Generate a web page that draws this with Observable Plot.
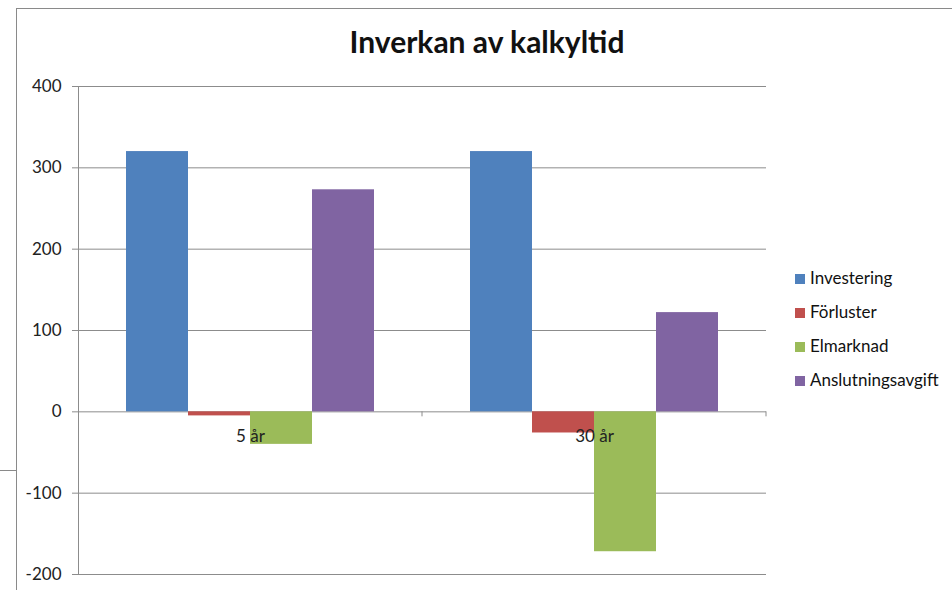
<!DOCTYPE html>
<html>
<head>
<meta charset="utf-8">
<script src="https://cdn.jsdelivr.net/npm/d3@7"></script>
<script src="https://cdn.jsdelivr.net/npm/@observablehq/plot@0.6"></script>
<style>
  html, body { margin: 0; padding: 0; background: #fff; }
  #wrap { position: relative; width: 952px; height: 590px; overflow: hidden; font-family: Lato, "Open Sans", sans-serif; }
  #frameTop { position: absolute; left: 16px; top: 8px; width: 940px; height: 0; border-top: 1px solid #8a8a8a; }
  #frameLeft { position: absolute; left: 16px; top: 8px; width: 0; height: 590px; border-left: 1px solid #8a8a8a; }
  #frameStub { position: absolute; left: 0; top: 470px; width: 16px; height: 0; border-top: 1px solid #8a8a8a; }
  #title { position: absolute; left: 0; width: 952px; top: 23px; text-align: center; font-weight: bold; font-size: 30px; color: #111; padding-left: 22px; box-sizing: border-box; }
  #chart { position: absolute; left: 0; top: 0; }
  #legend { position: absolute; left: 795px; top: 267px; font-size: 17px; color: #111; }
  #legend .row { height: 34px; display: flex; align-items: flex-start; }
  #legend .sw { width: 10px; height: 10px; margin-top: 7px; margin-right: 5px; }
</style>
</head>
<body>
<div id="wrap">
  <div id="frameTop"></div>
  <div id="frameLeft"></div>
  <div id="frameStub"></div>
  <div id="chart"></div>
  <div id="title"></div>
  <div id="legend"></div>
</div>
<script>
const titleText = "Inverkan av kalkyltid";
const categories = ["5 år", "30 år"];
const series = ["Investering", "Förluster", "Elmarknad", "Anslutningsavgift"];
const colors = ["#4F81BD", "#C0504D", "#9BBB59", "#8064A2"];
const values5 = [320, -5, -40, 273];
const values30 = [320, -26, -172, 122];
const yTicks = [-200, -100, 0, 100, 200, 300, 400];

const data = [];
series.forEach((s, i) => {
  data.push({category: categories[0], series: s, value: values5[i]});
  data.push({category: categories[1], series: s, value: values30[i]});
});

document.getElementById("title").textContent = titleText;

const grid = "#8c8c8c";

const catTicks = (index, scales, values, dims) => {
  const g = d3.create("svg:g");
  const y0 = scales.y(0);
  const xr = dims.width - dims.marginRight;
  g.append("line").attr("x1", xr).attr("x2", xr).attr("y1", y0).attr("y2", y0 + 5)
    .attr("stroke", grid);
  return g.node();
};

const chart = Plot.plot({
  width: 952,
  height: 590,
  marginLeft: 78,
  marginRight: 186,
  marginTop: 86,
  marginBottom: 16,
  style: {fontFamily: "Lato, 'Open Sans', sans-serif", fontSize: "17px", color: "#222", background: "transparent", overflow: "visible"},
  y: {domain: [-200, 400], label: null},
  fx: {domain: categories, padding: 0, axis: null, label: null},
  x: {domain: series, axis: null, label: null, paddingInner: 0, paddingOuter: 0.763},
  color: {domain: series, range: colors},
  marks: [
    Plot.gridY(yTicks, {stroke: grid, strokeOpacity: 1, strokeWidth: 1}),
    Plot.axisY(yTicks, {label: null, tickSize: 6, tickPadding: 11, stroke: grid, fontSize: 17, fill: "#222", facetAnchor: "left", tickFormat: d => d < 0 ? "-" + Math.abs(d) : String(d)}),
    Plot.frame({anchor: "left", stroke: grid, facetAnchor: "left"}),
    catTicks,
    Plot.barY(data, {fx: "category", x: "series", y: "value", fill: "series"}),
    Plot.text(categories, {fx: d => d, y: () => 0, text: d => d, dy: 25, fontSize: 17, fill: "#222"})
  ]
});
document.getElementById("chart").appendChild(chart);

const legend = d3.select("#legend");
series.forEach((s, i) => {
  const row = legend.append("div").attr("class", "row");
  row.append("div").attr("class", "sw").style("background", colors[i]);
  row.append("span").text(s);
});
</script>
</body>
</html>
